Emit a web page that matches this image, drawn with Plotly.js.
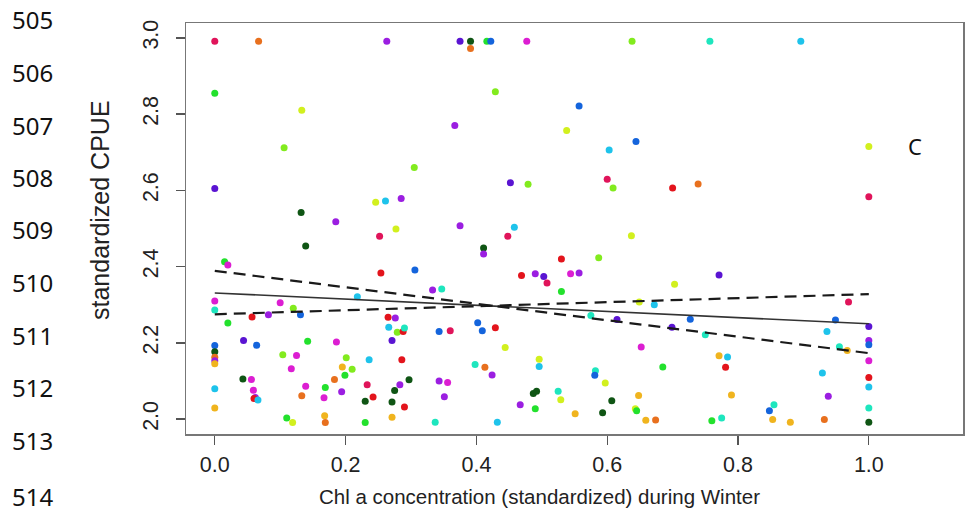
<!DOCTYPE html>
<html>
<head>
<meta charset="utf-8">
<script src="https://cdn.plot.ly/plotly-3.0.1.min.js"></script>
<style>html,body{margin:0;padding:0;background:#fff;}#chart{width:968px;height:527px;}</style>
</head>
<body>
<div id="chart"></div>
<script>
// x: Chl a concentration (standardized), y: standardized CPUE, c: colour group
var xVals = [
  0.000,0.067,0.263,0.375,0.391,0.391,0.416,0.422,0.477,0.638,0.757,0.896,
  0.000,0.133,0.106,0.000,0.132,0.185,0.246,0.261,0.429,0.557,0.367,0.538,0.305,0.452,0.479,0.285,0.277,0.375,0.458,
  0.644,0.603,0.600,0.609,0.700,0.739,1.000,1.000,
  0.252,0.139,0.015,0.020,0.254,0.218,0.000,0.100,0.000,0.120,0.057,0.082,0.131,0.020,0.265,0.266,0.044,0.064,0.142,0.186,
  0.000,0.000,0.000,0.000,0.000,0.104,0.125,0.117,0.201,0.195,0.210,0.199,0.236,0.183,0.000,0.043,0.056,0.059,0.062,0.060,
  0.066,0.139,0.169,0.133,0.167,0.194,0.233,0.230,0.242,0.000,0.110,0.119,0.168,0.169,0.230,
  0.448,0.411,0.411,0.306,0.530,0.469,0.490,0.503,0.508,0.544,0.557,0.530,0.333,0.347,0.276,0.279,0.288,0.290,0.271,0.343,
  0.360,0.402,0.409,0.429,0.444,0.286,0.398,0.413,0.424,0.496,0.496,0.297,0.283,0.275,0.271,0.290,0.271,0.343,0.356,0.351,
  0.337,0.432,0.467,0.487,0.492,0.490,0.525,0.529,0.551,
  0.637,0.587,0.771,0.703,0.649,0.672,0.575,0.615,0.727,0.699,0.750,0.652,0.582,0.581,0.597,0.685,0.771,0.784,0.781,0.790,
  0.648,0.607,0.593,0.643,0.645,0.659,0.674,0.760,0.775,0.848,0.855,0.853,
  0.969,0.949,0.936,0.955,0.967,0.929,0.938,0.932,0.880,
  1.000,1.000,1.000,1.000,1.000,1.000,1.000,1.000
];
var yVals = [
  2.991,2.991,2.991,2.991,2.991,2.972,2.991,2.991,2.991,2.991,2.991,2.991,
  2.855,2.810,2.712,2.605,2.542,2.518,2.569,2.572,2.859,2.821,2.770,2.757,2.660,2.620,2.616,2.579,2.499,2.507,2.503,
  2.728,2.706,2.629,2.606,2.606,2.617,2.715,2.583,
  2.480,2.454,2.413,2.404,2.383,2.321,2.310,2.305,2.286,2.291,2.268,2.274,2.274,2.252,2.267,2.241,2.206,2.194,2.204,2.202,
  2.193,2.177,2.162,2.153,2.145,2.169,2.167,2.132,2.161,2.137,2.131,2.115,2.156,2.104,2.080,2.105,2.104,2.076,2.057,2.054,
  2.050,2.086,2.083,2.061,2.056,2.072,2.090,2.047,2.058,2.029,2.003,1.991,2.009,1.991,1.991,
  2.480,2.449,2.433,2.391,2.420,2.377,2.381,2.374,2.357,2.381,2.383,2.335,2.339,2.341,2.265,2.228,2.230,2.239,2.206,2.230,
  2.232,2.253,2.232,2.240,2.188,2.156,2.143,2.136,2.116,2.157,2.138,2.103,2.090,2.075,2.045,2.032,2.005,2.100,2.096,2.059,
  1.992,1.992,2.038,2.067,2.073,2.027,2.073,2.051,2.014,
  2.481,2.423,2.378,2.354,2.307,2.300,2.272,2.261,2.262,2.241,2.221,2.189,2.127,2.115,2.095,2.137,2.166,2.163,2.136,2.063,
  2.062,2.048,2.017,2.027,2.022,1.997,1.998,1.996,2.003,2.022,2.038,1.999,
  2.307,2.260,2.230,2.190,2.180,2.121,2.060,1.999,1.992,
  2.243,2.206,2.195,2.153,2.109,2.084,2.029,1.992
];
var groups = [
  'CR','O','P','IN','DG','O','G','B','M','LM','T','CY',
  'G','YG','LM','IN','DG','P','YG','CY','LM','B','P','YG','LM','IN','LM','P','YG','P','CY',
  'B','CY','CR','LM','R','O','YG','CR',
  'CR','DG','G','M','R','CY','M','M','T','LM','R','P','B','G','R','CY','IN','B','G','M',
  'B','DG','O','P','GD','LM','M','M','LM','GD','LM','G','CY','O','CY','DG','M','M','P','R',
  'CY','M','G','O','M','P','CR','DG','R','GD','G','YG','GD','O','G',
  'CR','DG','P','B','R','R','P','IN','CR','M','P','G','P','T','P','LM','R','T','IN','B',
  'CR','B','B','R','YG','R','T','O','P','YG','CY','DG','P','DG','DG','R','GD','P','M','P',
  'T','CY','P','DG','DG','G','T','YG','GD',
  'YG','LM','IN','YG','YG','CY','T','IN','B','IN','T','M','T','B','YG','G','GD','CY','R','GD',
  'GD','DG','DG','YG','G','GD','O','G','T','B','T','GD',
  'CR','B','CY','T','GD','CY','P','O','GD',
  'IN','P','B','M','R','CY','T','DG'
];
// fitted line and the two dashed lines (values at x = 0 and x = 1)
var lineX = [0, 1];
var fitY = [2.331, 2.250];
var dashUpperY = [2.389, 2.173];
var dashLowerY = [2.275, 2.328];
var xTicks = [0, 0.2, 0.4, 0.6, 0.8, 1.0];
var xTickText = ['0.0', '0.2', '0.4', '0.6', '0.8', '1.0'];
var yTicks = [2.0, 2.2, 2.4, 2.6, 2.8, 3.0];
var yTickText = ['2.0', '2.2', '2.4', '2.6', '2.8', '3.0'];
var lineNumbers = ['505','506','507','508','509','510','511','512','513','514'];
var xTitle = 'Chl a concentration (standardized) during Winter';
var yTitle = 'standardized CPUE';
var panelLabel = 'C';

var palette = {
  R:'#e3141c', CR:'#e0145a', O:'#e8701e', GD:'#f0b41e', YG:'#d2f01e', LM:'#82eb1e',
  G:'#23e12d', DG:'#0f5514', T:'#1ee6be', CY:'#1ec3eb', B:'#1464dc', IN:'#5a14d2',
  P:'#9b1ee1', M:'#dc1ed2'
};
var colors = groups.map(function(g){ return palette[g]; });

var traces = [
  {x: xVals, y: yVals, type: 'scatter', mode: 'markers',
   marker: {color: colors, size: 7, line: {width: 0}}, hoverinfo: 'x+y', showlegend: false},
  {x: lineX, y: fitY, type: 'scatter', mode: 'lines',
   line: {color: '#333', width: 1.6}, showlegend: false},
  {x: lineX, y: dashUpperY, type: 'scatter', mode: 'lines',
   line: {color: '#1a1a1a', width: 2.2, dash: '12px,7px'}, showlegend: false},
  {x: lineX, y: dashLowerY, type: 'scatter', mode: 'lines',
   line: {color: '#1a1a1a', width: 2.2, dash: '12px,7px'}, showlegend: false}
];

var L = 186, R = 963, T = 23, B = 434;
var pw = R - L, ph = B - T;
function px2paperX(p){ return (p - L) / pw; }
function px2paperY(p){ return (B - p) / ph; }
var linePix = [20, 72.5, 125, 177.5, 230, 282.5, 335, 387.5, 440, 497];
var sansFont = 'Liberation Sans';

var annotations = lineNumbers.map(function(t, i){
  return {text: t, xref: 'paper', yref: 'paper', x: px2paperX(10), y: px2paperY(linePix[i]),
    xanchor: 'left', yanchor: 'middle', showarrow: false,
    font: {family: 'Noto Sans', size: 24, color: '#111'}};
});
annotations.push({text: panelLabel, xref: 'paper', yref: 'paper', x: px2paperX(915), y: px2paperY(146),
  xanchor: 'center', yanchor: 'middle', showarrow: false,
  font: {family: 'Noto Sans', size: 22, color: '#111'}});
annotations.push({text: xTitle, xref: 'paper', yref: 'paper', x: px2paperX(539), y: px2paperY(497),
  xanchor: 'center', yanchor: 'middle', showarrow: false,
  font: {family: sansFont, size: 20.5, color: '#222'}});
annotations.push({text: yTitle, xref: 'paper', yref: 'paper', x: px2paperX(100), y: px2paperY(210),
  xanchor: 'center', yanchor: 'middle', textangle: -90, showarrow: false,
  font: {family: sansFont, size: 25, color: '#222'}});

var axisFont = {family: sansFont, size: 21.5, color: '#222'};
var layout = {
  width: 968, height: 527,
  margin: {l: L, r: 968 - R, t: T, b: 527 - B, pad: 0},
  paper_bgcolor: '#fff', plot_bgcolor: '#fff',
  showlegend: false,
  xaxis: {
    range: [-0.044, 1.144], tickvals: xTicks, ticktext: xTickText,
    ticks: 'outside', ticklen: 9, tickwidth: 1.3, tickcolor: '#555',
    showline: true, mirror: true, linecolor: '#777', linewidth: 1.5,
    showgrid: false, zeroline: false, tickfont: axisFont, automargin: false,
    ticklabelstandoff: 2
  },
  yaxis: {
    range: [1.961, 3.039], tickvals: yTicks, ticktext: yTickText, tickangle: -90,
    ticks: 'outside', ticklen: 9, tickwidth: 1.3, tickcolor: '#555',
    showline: true, mirror: true, linecolor: '#777', linewidth: 1.5,
    showgrid: false, zeroline: false, tickfont: axisFont, automargin: false,
    ticklabelstandoff: 9
  },
  annotations: annotations
};

Plotly.newPlot('chart', traces, layout, {displayModeBar: false, staticPlot: true});
</script>
</body>
</html>
